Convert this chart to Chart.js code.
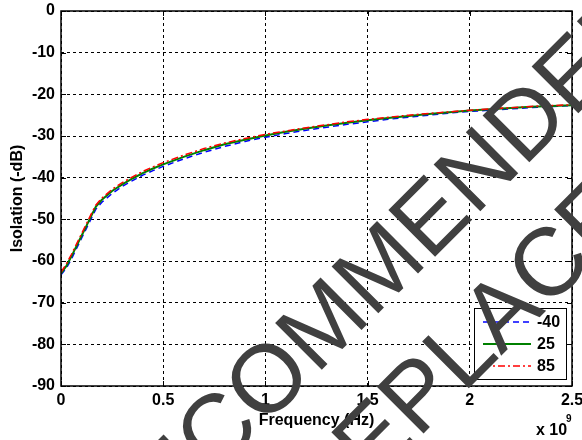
<!DOCTYPE html>
<html>
<head>
<meta charset="utf-8">
<script src="https://cdn.jsdelivr.net/npm/chart.js@4/dist/chart.umd.min.js"></script>
<style>
  html, body { margin: 0; padding: 0; background: #fff; }
</style>
</head>
<body>
<canvas id="chart1" width="582" height="440"></canvas>
<script>
// Data (frequency in Hz, isolation in dB)
const freq = [0, 0.025e9, 0.05e9, 0.075e9, 0.1e9, 0.125e9, 0.15e9, 0.17e9, 0.2e9, 0.25e9, 0.3e9, 0.35e9, 0.4e9, 0.45e9, 0.5e9,
  0.6e9, 0.7e9, 0.8e9, 0.9e9, 1.0e9, 1.1e9, 1.2e9, 1.3e9, 1.4e9, 1.5e9, 1.6e9, 1.7e9, 1.8e9, 1.9e9, 2.0e9, 2.1e9, 2.2e9, 2.3e9, 2.4e9, 2.5e9];
const isoM40 = [-63.3, -61.8, -59.6, -57.1, -54.6, -52.1, -49.6, -47.6, -45.9, -43.8, -42.1, -40.7, -39.4, -38.3, -37.3,
  -35.5, -33.9, -32.5, -31.3, -30.3, -29.4, -28.6, -27.9, -27.2, -26.6, -26.0, -25.5, -25.0, -24.5, -24.1, -23.8, -23.5, -23.2, -22.9, -22.7];
const iso25 = [-63, -61.3, -59, -56.5, -54, -51.5, -49, -47, -45.3, -43.2, -41.6, -40.2, -38.9, -37.8, -36.8,
  -35, -33.4, -32, -30.9, -29.9, -29, -28.2, -27.5, -26.8, -26.2, -25.7, -25.2, -24.7, -24.3, -23.9, -23.6, -23.3, -23.0, -22.8, -22.6];
const iso85 = [-62.7, -60.8, -58.5, -56.0, -53.5, -51.0, -48.5, -46.6, -44.9, -42.8, -41.2, -39.8, -38.5, -37.4, -36.4,
  -34.6, -33.0, -31.7, -30.6, -29.6, -28.8, -28.0, -27.3, -26.6, -26.0, -25.5, -25.0, -24.6, -24.2, -23.8, -23.5, -23.2, -22.9, -22.7, -22.5];
const seriesLabels = ['-40', '25', '85'];
const xTicks = [0, 0.5e9, 1e9, 1.5e9, 2e9, 2.5e9];
const yTicks = [0, -10, -20, -30, -40, -50, -60, -70, -80, -90];

const FONT = '"Liberation Sans", Arial, sans-serif';
Chart.defaults.font.family = FONT;
Chart.defaults.color = '#000';

const pts = (ys) => freq.map((f, i) => ({ x: f, y: ys[i] }));

// box round the axes, inward ticks, legend and the "x 10^9" label
const framePlugin = {
  id: 'frame',
  afterDatasetsDraw(chart) {
    const { ctx, chartArea: a, scales: { x, y } } = chart;
    ctx.save();
    ctx.strokeStyle = '#000';
    ctx.lineWidth = 1;
    ctx.setLineDash([]);
    ctx.beginPath();
    xTicks.forEach(v => {
      const px = Math.round(x.getPixelForValue(v)) + 0.5;
      ctx.moveTo(px, a.bottom); ctx.lineTo(px, a.bottom - 5);
      ctx.moveTo(px, a.top); ctx.lineTo(px, a.top + 5);
    });
    yTicks.forEach(v => {
      const py = Math.round(y.getPixelForValue(v)) + 0.5;
      ctx.moveTo(a.left, py); ctx.lineTo(a.left + 5, py);
      ctx.moveTo(a.right, py); ctx.lineTo(a.right - 5, py);
    });
    ctx.stroke();
    ctx.lineWidth = 1.5;
    ctx.strokeRect(a.left, a.top, a.right - a.left, a.bottom - a.top);

    // legend
    const lx = a.right - 98, ly = a.bottom - 78, lw = 92, lh = 71;
    ctx.fillStyle = '#fff';
    ctx.fillRect(lx, ly, lw, lh);
    ctx.lineWidth = 1;
    ctx.strokeRect(lx + 0.5, ly + 0.5, lw, lh);
    ctx.font = 'bold 16px ' + FONT;
    ctx.textBaseline = 'middle';
    ctx.textAlign = 'left';
    chart.data.datasets.forEach((ds, i) => {
      const ry = ly + 14 + i * 22;
      ctx.strokeStyle = ds.borderColor;
      ctx.lineWidth = ds.borderWidth;
      ctx.setLineDash(ds.borderDash || []);
      ctx.beginPath();
      ctx.moveTo(lx + 9, ry); ctx.lineTo(lx + 57, ry);
      ctx.stroke();
      ctx.setLineDash([]);
      ctx.fillStyle = '#000';
      ctx.fillText(ds.label, lx + 63, ry + 1);
    });

    // exponent label
    ctx.fillStyle = '#000';
    ctx.textBaseline = 'alphabetic';
    ctx.font = 'bold 16px ' + FONT;
    ctx.fillText('x 10', 536, 435);
    ctx.font = 'bold 10px ' + FONT;
    ctx.fillText('9', 566, 422);
    ctx.restore();
  }
};

// diagonal stamp across the figure
const stampPlugin = {
  id: 'stamp',
  afterDraw(chart) {
    const ctx = chart.ctx;
    ctx.save();
    ctx.rotate(-Math.PI / 4);
    ctx.font = '96px ' + FONT;
    ctx.fillStyle = '#404040';
    ctx.textBaseline = 'alphabetic';
    ctx.textAlign = 'left';
    const line1 = 'NOT RECOMMENDED FOR NEW DESIGNS';
    const off1 = ctx.measureText('NOT REC').width + ctx.measureText('O').width / 2;
    ctx.fillText(line1, -79 - off1, 489);
    const line2 = 'RECOMMENDED REPLACEMENT';
    const off2 = ctx.measureText('RECOMMENDED RE').width;
    ctx.fillText(line2, -15 - off2, 606);
    ctx.restore();
  }
};

const config = {
  type: 'line',
  data: {
    datasets: [
      { label: seriesLabels[0], data: pts(isoM40), borderColor: '#0000ff', borderWidth: 1.5, borderDash: [6, 4], order: 3 },
      { label: seriesLabels[1], data: pts(iso25), borderColor: '#008000', borderWidth: 2, order: 2 },
      { label: seriesLabels[2], data: pts(iso85), borderColor: '#ff0000', borderWidth: 1.5, borderDash: [7, 3, 2, 3], order: 1 }
    ]
  },
  options: {
    responsive: false,
    animation: false,
    events: [],
    elements: { point: { radius: 0 }, line: { tension: 0 } },
    layout: { padding: { top: 11, right: 10, left: 0, bottom: 0 } },
    plugins: {
      legend: { display: false },
      tooltip: { enabled: false }
    },
    scales: {
      x: {
        type: 'linear',
        min: 0,
        max: 2.5e9,
        afterBuildTicks: (s) => { s.ticks = xTicks.map(v => ({ value: v })); },
        afterFit: (s) => { s.height = 54; s.paddingLeft = 0; s.paddingRight = 0; },
        ticks: {
          padding: 5,
          maxRotation: 0,
          font: { size: 16, weight: 'bold' },
          callback: (v) => String(v / 1e9)
        },
        grid: { color: '#000', lineWidth: 1, drawTicks: false },
        border: { display: false, dash: [3, 3] },
        title: { display: true, text: 'Frequency (Hz)', font: { size: 16, weight: 'bold' }, padding: { top: 0, bottom: 10 } }
      },
      y: {
        min: -90,
        max: 0,
        afterBuildTicks: (s) => { s.ticks = yTicks.map(v => ({ value: v })); },
        afterFit: (s) => { s.width = 61; s.paddingTop = 0; s.paddingBottom = 0; },
        ticks: {
          padding: 6,
          font: { size: 16, weight: 'bold' }
        },
        grid: { color: '#000', lineWidth: 1, drawTicks: false },
        border: { display: false, dash: [3, 3] },
        title: { display: true, text: 'Isolation (-dB)', font: { size: 16, weight: 'bold' }, padding: { top: 8, bottom: 0 } }
      }
    }
  },
  plugins: [framePlugin, stampPlugin]
};

const myChart = new Chart(document.getElementById('chart1'), config);
</script>
</body>
</html>
